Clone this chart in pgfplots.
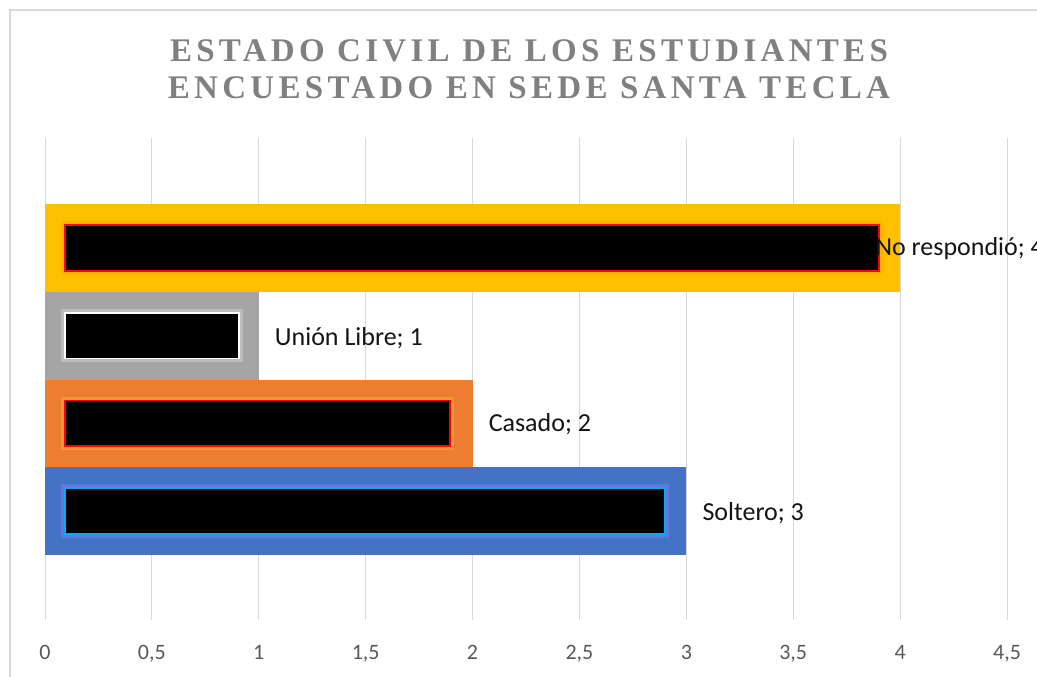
\documentclass[border=0pt]{standalone}
\usepackage{pgfplots}
\pgfplotsset{compat=1.18}
\usepackage{fontspec}
\setmainfont{Carlito}
\newfontfamily\titlefont[LetterSpace=13]{Liberation Serif}
\definecolor{cYel}{HTML}{FFC000}
\definecolor{cGry}{HTML}{A5A5A5}
\definecolor{cOra}{HTML}{ED7D31}
\definecolor{cBlu}{HTML}{4472C4}
\definecolor{grid}{HTML}{D9D9D9}
\definecolor{tick}{HTML}{595959}
\definecolor{ttl}{HTML}{808080}
\definecolor{hBlu}{RGB}{110,120,235}
\definecolor{hOra}{RGB}{250,160,60}
\definecolor{hGry}{RGB}{200,200,200}
\definecolor{hYel}{RGB}{255,170,0}
\definecolor{lbl}{RGB}{20,20,20}
\begin{document}
\begin{tikzpicture}[x=1bp,y=1bp]
\useasboundingbox (0,0) rectangle (1037,677);
\draw[grid, line width=1.2bp] (10,-20) rectangle (1060,667);
\node[anchor=base, text=ttl, font=\titlefont\bfseries\fontsize{33bp}{37bp}\selectfont] at (529,615) {ESTADO CIVIL DE LOS ESTUDIANTES};
\node[anchor=base, text=ttl, font=\titlefont\bfseries\fontsize{33bp}{37bp}\selectfont] at (529,578) {ENCUESTADO EN SEDE SANTA TECLA};
\begin{axis}[
  at={(45bp,57bp)}, anchor=south west,
  width=962bp, height=482bp, scale only axis,
  xmin=0, xmax=4.5, ymin=-1.243, ymax=4.255,
  xtick={0,0.5,1,1.5,2,2.5,3,3.5,4,4.5},
  ytick=\empty,
  xmajorgrids, major grid style={draw=grid, line width=1bp},
  axis line style={draw=none}, tick style={draw=none},
  /pgf/number format/.cd, use comma, 1000 sep={}, assume math mode=true,
  /pgfplots/.cd,
  xticklabel style={anchor=base, yshift=-40bp, text=tick, font=\fontsize{22bp}{26bp}\selectfont},
  clip=false,
]
% outer coloured bars (values)
\addplot[xbar, bar width=1, bar shift=0pt, fill=cBlu, draw=none] coordinates {(3,0)};
\addplot[xbar, bar width=1, bar shift=0pt, fill=cOra, draw=none] coordinates {(2,1)};
\addplot[xbar, bar width=1, bar shift=0pt, fill=cGry, draw=none] coordinates {(1,2)};
\addplot[xbar, bar width=1, bar shift=0pt, fill=cYel, draw=none] coordinates {(4,3)};
% halos
\addplot[draw=hBlu, line width=8bp, opacity=0.7] coordinates {(0.094,-0.26)(2.9,-0.26)(2.9,0.26)(0.094,0.26)} -- cycle;
\addplot[draw=hOra, line width=8bp, opacity=0.7] coordinates {(0.094,0.74)(1.896,0.74)(1.896,1.26)(0.094,1.26)} -- cycle;
\addplot[draw=hGry, line width=8bp, opacity=0.7] coordinates {(0.094,1.74)(0.908,1.74)(0.908,2.26)(0.094,2.26)} -- cycle;
\addplot[draw=hYel, line width=8bp, opacity=0.7] coordinates {(0.094,2.74)(3.9,2.74)(3.9,3.26)(0.094,3.26)} -- cycle;
% inner black bars
\addplot[fill=black, draw=cyan, line width=1.8bp] coordinates {(0.094,-0.26)(2.9,-0.26)(2.9,0.26)(0.094,0.26)} -- cycle;
\addplot[fill=black, draw=red, line width=1.8bp] coordinates {(0.094,0.74)(1.896,0.74)(1.896,1.26)(0.094,1.26)} -- cycle;
\addplot[fill=black, draw=white, line width=1.8bp] coordinates {(0.094,1.74)(0.908,1.74)(0.908,2.26)(0.094,2.26)} -- cycle;
\addplot[fill=black, draw=red, line width=1.8bp] coordinates {(0.094,2.74)(3.9,2.74)(3.9,3.26)(0.094,3.26)} -- cycle;
% labels
\node[anchor=west, font=\fontsize{26bp}{30bp}\selectfont, text=lbl, inner sep=0pt] at (axis cs:3,0) [xshift=16bp, yshift=-2bp] {Soltero; 3};
\node[anchor=west, font=\fontsize{26bp}{30bp}\selectfont, text=lbl, inner sep=0pt] at (axis cs:2,1) [xshift=16bp, yshift=-1bp] {Casado; 2};
\node[anchor=west, font=\fontsize{26bp}{30bp}\selectfont, text=lbl, inner sep=0pt] at (axis cs:1,2) [xshift=16bp, yshift=-2bp] {Unión Libre; 1};
\node[anchor=west, font=\fontsize{26bp}{30bp}\selectfont, text=lbl, inner sep=0pt] at (axis cs:4,3) [xshift=-25bp, yshift=-1bp] {No respondió; 4};
\end{axis}
\end{tikzpicture}
\end{document}
